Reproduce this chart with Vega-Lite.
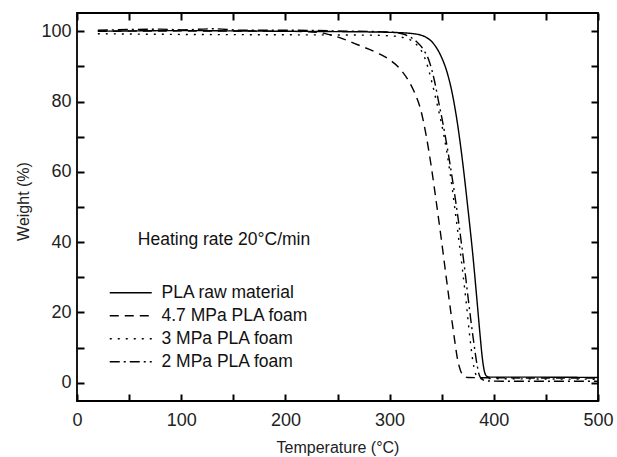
{
  "$schema": "https://vega.github.io/schema/vega-lite/v6.json",
  "width": 521,
  "height": 388,
  "autosize": "none",
  "padding": {"left": 77, "top": 13, "right": 19, "bottom": 56},
  "config": {
    "font": "Liberation Sans",
    "view": {"stroke": "#000", "strokeWidth": 1.8},
    "axis": {
      "domain": false,
      "grid": false,
      "ticks": true,
      "tickColor": "#000",
      "tickWidth": 2,
      "tickSize": 7,
      "offset": -7,
      "zindex": 1,
      "labelFont": "Liberation Sans",
      "labelFontSize": 18,
      "labelColor": "#222",
      "titleFont": "Liberation Sans",
      "titleFontSize": 16,
      "titleFontWeight": "normal",
      "titleColor": "#222"
    },
    "legend": {
      "labelFont": "Liberation Sans",
      "labelFontSize": 17.5,
      "labelColor": "#111"
    }
  },
  "data": {
    "values": [
      {"sample": "PLA raw material", "T": 20, "W": 100},
      {"sample": "PLA raw material", "T": 50, "W": 100.1},
      {"sample": "PLA raw material", "T": 100, "W": 100.2},
      {"sample": "PLA raw material", "T": 150, "W": 100.1},
      {"sample": "PLA raw material", "T": 200, "W": 100},
      {"sample": "PLA raw material", "T": 250, "W": 99.9},
      {"sample": "PLA raw material", "T": 300, "W": 99.7},
      {"sample": "PLA raw material", "T": 320, "W": 99.4},
      {"sample": "PLA raw material", "T": 330, "W": 98.9},
      {"sample": "PLA raw material", "T": 335, "W": 98.3},
      {"sample": "PLA raw material", "T": 340, "W": 97.2},
      {"sample": "PLA raw material", "T": 345, "W": 95.3},
      {"sample": "PLA raw material", "T": 350, "W": 92.5},
      {"sample": "PLA raw material", "T": 355, "W": 88.5},
      {"sample": "PLA raw material", "T": 360, "W": 82.5},
      {"sample": "PLA raw material", "T": 365, "W": 74},
      {"sample": "PLA raw material", "T": 370, "W": 63},
      {"sample": "PLA raw material", "T": 375, "W": 50},
      {"sample": "PLA raw material", "T": 380, "W": 36},
      {"sample": "PLA raw material", "T": 384, "W": 23},
      {"sample": "PLA raw material", "T": 387, "W": 13},
      {"sample": "PLA raw material", "T": 389, "W": 7},
      {"sample": "PLA raw material", "T": 391, "W": 3.2},
      {"sample": "PLA raw material", "T": 393, "W": 1.9},
      {"sample": "PLA raw material", "T": 396, "W": 1.6},
      {"sample": "PLA raw material", "T": 420, "W": 1.6},
      {"sample": "PLA raw material", "T": 500, "W": 1.5},

      {"sample": "4.7 MPa PLA foam", "T": 20, "W": 100},
      {"sample": "4.7 MPa PLA foam", "T": 100, "W": 100.1},
      {"sample": "4.7 MPa PLA foam", "T": 200, "W": 100},
      {"sample": "4.7 MPa PLA foam", "T": 230, "W": 99.7},
      {"sample": "4.7 MPa PLA foam", "T": 240, "W": 99.2},
      {"sample": "4.7 MPa PLA foam", "T": 250, "W": 98.4},
      {"sample": "4.7 MPa PLA foam", "T": 260, "W": 97.3},
      {"sample": "4.7 MPa PLA foam", "T": 270, "W": 96.1},
      {"sample": "4.7 MPa PLA foam", "T": 280, "W": 94.9},
      {"sample": "4.7 MPa PLA foam", "T": 290, "W": 93.6},
      {"sample": "4.7 MPa PLA foam", "T": 300, "W": 91.9},
      {"sample": "4.7 MPa PLA foam", "T": 310, "W": 89.3},
      {"sample": "4.7 MPa PLA foam", "T": 318, "W": 86},
      {"sample": "4.7 MPa PLA foam", "T": 324, "W": 82.5},
      {"sample": "4.7 MPa PLA foam", "T": 330, "W": 77.5},
      {"sample": "4.7 MPa PLA foam", "T": 335, "W": 70.5},
      {"sample": "4.7 MPa PLA foam", "T": 340, "W": 61.5},
      {"sample": "4.7 MPa PLA foam", "T": 345, "W": 51},
      {"sample": "4.7 MPa PLA foam", "T": 350, "W": 40},
      {"sample": "4.7 MPa PLA foam", "T": 355, "W": 28.5},
      {"sample": "4.7 MPa PLA foam", "T": 359, "W": 19.5},
      {"sample": "4.7 MPa PLA foam", "T": 362, "W": 13},
      {"sample": "4.7 MPa PLA foam", "T": 365, "W": 7},
      {"sample": "4.7 MPa PLA foam", "T": 368, "W": 3.5},
      {"sample": "4.7 MPa PLA foam", "T": 371, "W": 2},
      {"sample": "4.7 MPa PLA foam", "T": 375, "W": 1.5},
      {"sample": "4.7 MPa PLA foam", "T": 400, "W": 1.4},
      {"sample": "4.7 MPa PLA foam", "T": 500, "W": 1.3},

      {"sample": "3 MPa PLA foam", "T": 20, "W": 99.3},
      {"sample": "3 MPa PLA foam", "T": 100, "W": 99.1},
      {"sample": "3 MPa PLA foam", "T": 200, "W": 99},
      {"sample": "3 MPa PLA foam", "T": 280, "W": 98.9},
      {"sample": "3 MPa PLA foam", "T": 300, "W": 98.7},
      {"sample": "3 MPa PLA foam", "T": 310, "W": 98.4},
      {"sample": "3 MPa PLA foam", "T": 316, "W": 98},
      {"sample": "3 MPa PLA foam", "T": 322, "W": 97.2},
      {"sample": "3 MPa PLA foam", "T": 328, "W": 95.5},
      {"sample": "3 MPa PLA foam", "T": 333, "W": 93},
      {"sample": "3 MPa PLA foam", "T": 337, "W": 89.5},
      {"sample": "3 MPa PLA foam", "T": 341, "W": 85},
      {"sample": "3 MPa PLA foam", "T": 345, "W": 80},
      {"sample": "3 MPa PLA foam", "T": 350, "W": 73.5},
      {"sample": "3 MPa PLA foam", "T": 355, "W": 65.5},
      {"sample": "3 MPa PLA foam", "T": 360, "W": 55.5},
      {"sample": "3 MPa PLA foam", "T": 365, "W": 44},
      {"sample": "3 MPa PLA foam", "T": 370, "W": 32},
      {"sample": "3 MPa PLA foam", "T": 374, "W": 21.5},
      {"sample": "3 MPa PLA foam", "T": 377, "W": 13},
      {"sample": "3 MPa PLA foam", "T": 380, "W": 6},
      {"sample": "3 MPa PLA foam", "T": 382, "W": 3},
      {"sample": "3 MPa PLA foam", "T": 385, "W": 1.6},
      {"sample": "3 MPa PLA foam", "T": 390, "W": 1.2},
      {"sample": "3 MPa PLA foam", "T": 500, "W": 1.0},

      {"sample": "2 MPa PLA foam", "T": 20, "W": 100.3},
      {"sample": "2 MPa PLA foam", "T": 50, "W": 100.5},
      {"sample": "2 MPa PLA foam", "T": 80, "W": 100.6},
      {"sample": "2 MPa PLA foam", "T": 100, "W": 100.4},
      {"sample": "2 MPa PLA foam", "T": 130, "W": 100.7},
      {"sample": "2 MPa PLA foam", "T": 160, "W": 100.3},
      {"sample": "2 MPa PLA foam", "T": 200, "W": 100.3},
      {"sample": "2 MPa PLA foam", "T": 250, "W": 100.1},
      {"sample": "2 MPa PLA foam", "T": 300, "W": 99.8},
      {"sample": "2 MPa PLA foam", "T": 312, "W": 99.3},
      {"sample": "2 MPa PLA foam", "T": 320, "W": 98.3},
      {"sample": "2 MPa PLA foam", "T": 326, "W": 97},
      {"sample": "2 MPa PLA foam", "T": 332, "W": 95},
      {"sample": "2 MPa PLA foam", "T": 338, "W": 91.5},
      {"sample": "2 MPa PLA foam", "T": 343, "W": 86},
      {"sample": "2 MPa PLA foam", "T": 347, "W": 80},
      {"sample": "2 MPa PLA foam", "T": 352, "W": 72.5},
      {"sample": "2 MPa PLA foam", "T": 357, "W": 64},
      {"sample": "2 MPa PLA foam", "T": 362, "W": 54.5},
      {"sample": "2 MPa PLA foam", "T": 367, "W": 44},
      {"sample": "2 MPa PLA foam", "T": 372, "W": 32.5},
      {"sample": "2 MPa PLA foam", "T": 376, "W": 22.5},
      {"sample": "2 MPa PLA foam", "T": 381, "W": 11},
      {"sample": "2 MPa PLA foam", "T": 384, "W": 5},
      {"sample": "2 MPa PLA foam", "T": 386, "W": 2.2},
      {"sample": "2 MPa PLA foam", "T": 389, "W": 0.9},
      {"sample": "2 MPa PLA foam", "T": 395, "W": 0.5},
      {"sample": "2 MPa PLA foam", "T": 420, "W": 0.4},
      {"sample": "2 MPa PLA foam", "T": 500, "W": 0.4}
    ]
  },
  "resolve": {"axis": {"x": "independent", "y": "independent"}},
  "layer": [
    {
      "mark": {"type": "line", "color": "#000", "strokeWidth": 1.4, "interpolate": "monotone"},
      "encoding": {
        "x": {
          "field": "T", "type": "quantitative",
          "scale": {"domain": [0, 500], "nice": false, "zero": false},
          "axis": {
            "orient": "bottom",
            "title": "Temperature (°C)",
            "values": [0, 50, 100, 150, 200, 250, 300, 350, 400, 450, 500],
            "labelExpr": "datum.value % 100 === 0 ? datum.label : ''",
            "labelPadding": 10,
            "titlePadding": 10,
            "labelFlush": false
          }
        },
        "y": {
          "field": "W", "type": "quantitative",
          "scale": {"domain": [-5.2, 105.2], "nice": false, "zero": false},
          "axis": {
            "orient": "left",
            "title": "Weight (%)",
            "values": [0, 10, 20, 30, 40, 50, 60, 70, 80, 90, 100],
            "labelExpr": "datum.value % 20 === 0 ? datum.label : ''",
            "labelPadding": 6,
            "titlePadding": 9,
            "titleY": 188,
            "labelFlush": false
          }
        },
        "strokeDash": {
          "field": "sample", "type": "nominal",
          "scale": {
            "domain": ["PLA raw material", "4.7 MPa PLA foam", "3 MPa PLA foam", "2 MPa PLA foam"],
            "range": [[1, 0], [9, 6], [2, 6], [10, 4, 2, 4]]
          },
          "legend": {
            "orient": "none",
            "legendX": 45,
            "legendY": 271,
            "title": null,
            "padding": 0,
            "symbolType": "M-3,0H3",
            "symbolSize": 196,
            "symbolStrokeColor": "#000",
            "symbolStrokeWidth": 1.3,
            "labelOffset": 22,
            "rowPadding": 4
          }
        }
      }
    },
    {
      "data": {"values": [{}]},
      "mark": {"type": "text", "align": "left", "baseline": "middle", "fontSize": 17.5, "color": "#111", "font": "Liberation Sans"},
      "encoding": {
        "x": {
          "datum": 58.4, "type": "quantitative",
          "axis": {
            "orient": "top", "title": null, "labels": false,
            "values": [0, 50, 100, 150, 200, 250, 300, 350, 400, 450, 500]
          }
        },
        "y": {
          "datum": 40.7, "type": "quantitative",
          "axis": {
            "orient": "right", "title": null, "labels": false,
            "values": [0, 10, 20, 30, 40, 50, 60, 70, 80, 90, 100]
          }
        },
        "text": {"value": "Heating rate 20°C/min"}
      }
    }
  ]
}
